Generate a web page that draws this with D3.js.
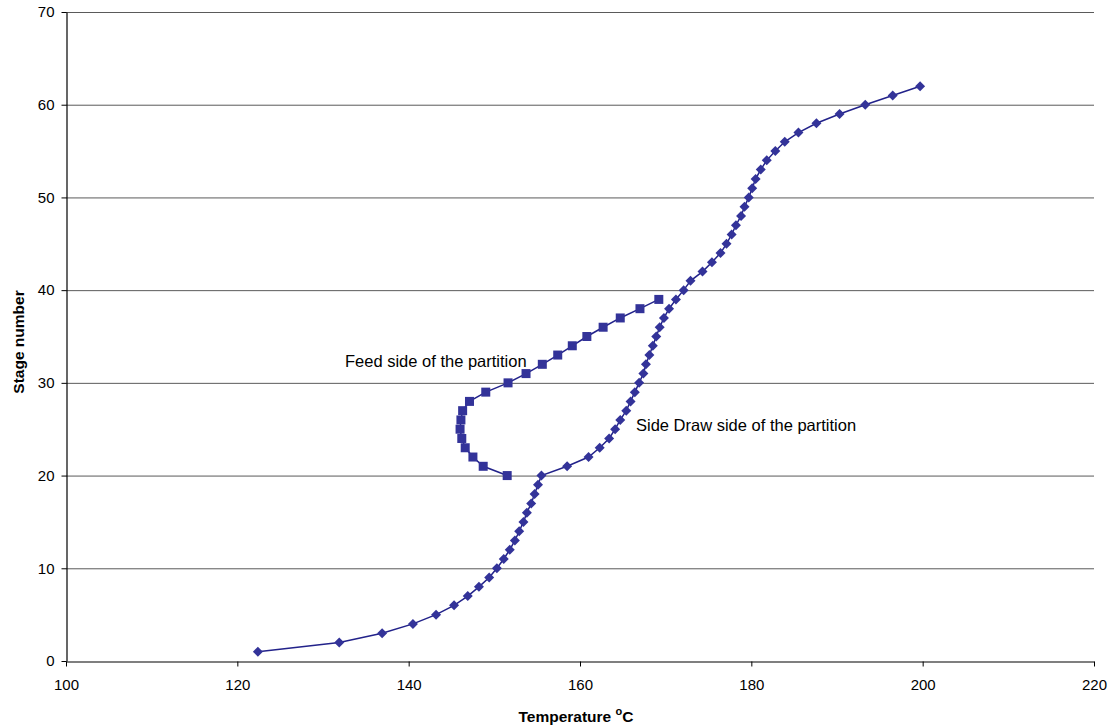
<!DOCTYPE html>
<html>
<head>
<meta charset="utf-8">
<script src="https://cdn.jsdelivr.net/npm/d3@7"></script>
<style>
  html, body { margin: 0; padding: 0; background: #fff; }
  svg { display: block; font-family: "Liberation Sans", Arial, sans-serif; }
</style>
</head>
<body>
<svg id="chart" width="1112" height="727"></svg>
<script>
// Side Draw side of the partition: stages 1..62
const sideStages = d3.range(1, 63);
const sideTemps = [
  122.4, 131.9, 136.9, 140.5, 143.2, 145.3, 146.9, 148.2, 149.4, 150.3,
  151.1, 151.8, 152.4, 152.9, 153.4, 153.8, 154.3, 154.7, 155.1, 155.5,
  158.5, 161.0, 162.3, 163.4, 164.1, 164.7, 165.4, 165.9, 166.4, 166.9,
  167.4, 167.7, 168.1, 168.5, 168.9, 169.3, 169.8, 170.4, 171.2, 172.1,
  172.9, 174.3, 175.4, 176.4, 177.1, 177.7, 178.2, 178.8, 179.2, 179.7,
  180.1, 180.5, 181.1, 181.8, 182.8, 183.9, 185.5, 187.6, 190.3, 193.3,
  196.5, 199.7
];

// Feed side of the partition: stages 20..39
const feedStages = d3.range(20, 40);
const feedTemps = [
  151.5, 148.7, 147.5, 146.6, 146.2, 146.0, 146.1, 146.3, 147.1, 149.0,
  151.6, 153.7, 155.6, 157.4, 159.1, 160.8, 162.7, 164.7, 167.0, 169.2
];

const xTicks = [100, 120, 140, 160, 180, 200, 220];
const yTicks = [0, 10, 20, 30, 40, 50, 60, 70];

const svg = d3.select("#chart");
const plotL = 66, plotR = 1094, plotT = 12, plotB = 661;

const x = d3.scaleLinear().domain([100, 220]).range([plotL, plotR]);
const y = d3.scaleLinear().domain([0, 70]).range([plotB, plotT]);

// horizontal gridlines
svg.append("g")
  .selectAll("line")
  .data(yTicks.filter(d => d > 0))
  .join("line")
  .attr("x1", plotL).attr("x2", plotR)
  .attr("y1", d => y(d) + 0.5).attr("y2", d => y(d) + 0.5)
  .attr("stroke", "#5a5a5a").attr("stroke-width", 1);

// axes
const xAxis = svg.append("g")
  .attr("transform", `translate(0,${plotB + 0.5})`)
  .call(d3.axisBottom(x).tickValues(xTicks).tickSize(5).tickSizeOuter(0).tickPadding(13));
const yAxis = svg.append("g")
  .attr("transform", `translate(${plotL + 0.5},0)`)
  .call(d3.axisLeft(y).tickValues(yTicks).tickSize(5).tickSizeOuter(0).tickPadding(7));

[xAxis, yAxis].forEach(g => {
  g.select(".domain").attr("stroke", "#000").attr("stroke-width", 1.2);
  g.selectAll(".tick line").attr("stroke", "#000");
  g.selectAll(".tick text")
    .attr("font-family", "Liberation Sans, Arial, sans-serif")
    .attr("font-size", 15).attr("fill", "#000");
});

// axis titles
svg.append("text")
  .attr("x", 576).attr("y", 722)
  .attr("text-anchor", "middle")
  .attr("font-size", 15.5).attr("font-weight", "bold")
  .html('Temperature <tspan dy="-7" font-size="11">o</tspan><tspan dy="7">C</tspan>');

svg.append("text")
  .attr("transform", "translate(24,342) rotate(-90)")
  .attr("text-anchor", "middle")
  .attr("font-size", 15.5).attr("font-weight", "bold")
  .text("Stage number");

const lineColor = "#22228a";
const markColor = "#333399";

const line = d3.line().x(d => x(d[0])).y(d => y(d[1]));
const sidePts = sideTemps.map((t, i) => [t, sideStages[i]]);
const feedPts = feedTemps.map((t, i) => [t, feedStages[i]]);

svg.append("path").datum(feedPts)
  .attr("d", line).attr("fill", "none")
  .attr("stroke", lineColor).attr("stroke-width", 1.5);
svg.append("path").datum(sidePts)
  .attr("d", line).attr("fill", "none")
  .attr("stroke", lineColor).attr("stroke-width", 1.5);

// square markers
svg.append("g").selectAll("rect")
  .data(feedPts)
  .join("rect")
  .attr("x", d => x(d[0]) - 4.5).attr("y", d => y(d[1]) - 4.5)
  .attr("width", 9).attr("height", 9)
  .attr("fill", markColor);

// diamond markers
svg.append("g").selectAll("path")
  .data(sidePts)
  .join("path")
  .attr("transform", d => `translate(${x(d[0])},${y(d[1])})`)
  .attr("d", "M0,-5L5,0L0,5L-5,0Z")
  .attr("fill", markColor);

// series annotations
svg.append("text")
  .attr("x", 345).attr("y", 367)
  .attr("font-size", 16.5).attr("fill", "#000")
  .text("Feed side of the partition");
svg.append("text")
  .attr("x", 636).attr("y", 431)
  .attr("font-size", 16.5).attr("fill", "#000")
  .text("Side Draw side of the partition");
</script>
</body>
</html>
